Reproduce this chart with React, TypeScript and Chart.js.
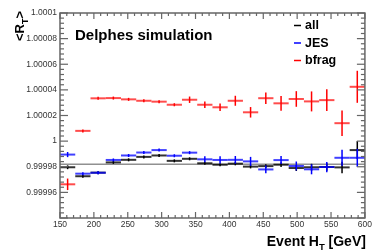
import React, { useEffect, useRef } from "react";
import { Chart, registerables } from "chart.js";

Chart.register(...registerables);

// ---- data ----
const xEdges = [150, 172.5, 195, 217.5, 240, 262.5, 285, 307.5, 330, 352.5, 375, 397.5, 420, 442.5, 465, 487.5, 510, 532.5, 555, 577.5, 600];

const allValues = [0.9999796, 0.9999726, 0.9999754, 0.9999834, 0.9999854, 0.9999877, 0.9999888, 0.9999846, 0.9999862, 0.9999827, 0.9999816, 0.9999824, 0.9999801, 0.9999805, 0.9999816, 0.999979, 0.9999796, 0.9999798, 0.9999795, 0.999993];
const allErrors = [0.0000015, 0.0000008, 0.0000008, 0.0000008, 0.0000008, 0.0000008, 0.0000008, 0.0000008, 0.0000009, 0.000001, 0.0000012, 0.0000013, 0.0000014, 0.0000015, 0.0000017, 0.0000023, 0.0000027, 0.000003, 0.0000045, 0.000007];

const jesValues = [0.9999895, 0.9999746, 0.9999753, 0.9999853, 0.9999888, 0.9999911, 0.999993, 0.9999886, 0.999991, 0.9999858, 0.9999853, 0.9999854, 0.9999842, 0.9999779, 0.9999852, 0.9999806, 0.999978, 0.9999798, 0.999987, 0.999987];
const jesErrors = [0.000002, 0.0000008, 0.0000008, 0.0000008, 0.0000008, 0.0000008, 0.0000008, 0.0000009, 0.0000012, 0.0000023, 0.0000028, 0.000003, 0.0000035, 0.000003, 0.0000031, 0.0000035, 0.0000039, 0.000004, 0.0000062, 0.000007];

const bfragValues = [0.9999663, 1.000008, 1.0000334, 1.0000336, 1.0000326, 1.0000315, 1.0000308, 1.0000284, 1.0000323, 1.0000284, 1.0000264, 1.0000315, 1.0000225, 1.0000335, 1.0000295, 1.0000329, 1.000031, 1.000032, 1.000014, 1.0000424];
const bfragErrors = [0.0000045, 0.000001, 0.0000008, 0.0000008, 0.0000008, 0.0000009, 0.000001, 0.0000012, 0.0000025, 0.0000026, 0.0000029, 0.0000039, 0.0000041, 0.0000045, 0.0000058, 0.0000061, 0.0000078, 0.0000085, 0.00001, 0.0000125];

const referenceLevel = 0.999982;

const seriesNames = ["all", "JES", "bfrag"];
const seriesColors = ["#000000", "#0000ff", "#ff0000"];
const seriesBarColors = ["rgba(0,0,0,0.8)", "rgba(0,0,255,0.75)", "rgba(255,0,0,0.7)"];

const yTickValues = [0.99996, 0.99998, 1, 1.00002, 1.00004, 1.00006, 1.00008, 1.0001];
const yTickLabels = ["0.99996", "0.99998", "1", "1.00002", "1.00004", "1.00006", "1.00008", "1.0001"];
const xTickValues = [150, 200, 250, 300, 350, 400, 450, 500, 550, 600];
const xTickLabels = ["150", "200", "250", "300", "350", "400", "450", "500", "550", "600"];

const Y_MIN = 0.99994;
const Y_MAX = 1.0001;
const X_MIN = 150;
const X_MAX = 600;

const FONT = "'Liberation Sans', Arial, Helvetica, sans-serif";

const seriesValues = [allValues, jesValues, bfragValues];
const seriesErrors = [allErrors, jesErrors, bfragErrors];

const binCenters = xEdges.slice(0, -1).map((e, i) => (e + xEdges[i + 1]) / 2);

function line(ctx: CanvasRenderingContext2D, x1: number, y1: number, x2: number, y2: number) {
  ctx.beginPath();
  ctx.moveTo(x1, y1);
  ctx.lineTo(x2, y2);
  ctx.stroke();
}

function drawSubText(
  ctx: CanvasRenderingContext2D,
  parts: { t: string; sub?: boolean }[],
  size: number,
  subSize: number,
  x: number,
  y: number,
  align: "left" | "right"
) {
  const widths = parts.map((p) => {
    ctx.font = `bold ${p.sub ? subSize : size}px ${FONT}`;
    return ctx.measureText(p.t).width;
  });
  const total = widths.reduce((a, b) => a + b, 0);
  let cx = align === "right" ? x - total : x;
  ctx.textAlign = "left";
  ctx.textBaseline = "alphabetic";
  parts.forEach((p, i) => {
    ctx.font = `bold ${p.sub ? subSize : size}px ${FONT}`;
    ctx.fillText(p.t, cx, y + (p.sub ? size * 0.3 : 0));
    cx += widths[i];
  });
  return total;
}

const rootPlugin = {
  id: "rootStyle",
  beforeDatasetsDraw(chart: any) {
    const { ctx, chartArea: a, scales } = chart;
    const py = scales.y.getPixelForValue(referenceLevel);
    ctx.save();
    ctx.strokeStyle = "#909090";
    ctx.lineWidth = 1.6;
    line(ctx, a.left, py, a.right, py);
    ctx.restore();
  },
  afterDatasetsDraw(chart: any) {
    const { ctx, chartArea: a, scales } = chart;
    const x = scales.x;
    const y = scales.y;
    ctx.save();
    ctx.beginPath();
    ctx.rect(a.left, a.top, a.right - a.left, a.bottom - a.top);
    ctx.clip();
    seriesValues.forEach((vals, si) => {
      const errs = seriesErrors[si];
      vals.forEach((v, i) => {
        const xl = x.getPixelForValue(xEdges[i]);
        const xr = x.getPixelForValue(xEdges[i + 1]);
        const xc = x.getPixelForValue(binCenters[i]);
        const yc = y.getPixelForValue(v);
        const yt = y.getPixelForValue(v + errs[i]);
        const yb = y.getPixelForValue(v - errs[i]);
        ctx.strokeStyle = seriesBarColors[si];
        ctx.lineWidth = 2;
        line(ctx, xl, yc, xr, yc);
        ctx.strokeStyle = seriesColors[si];
        ctx.lineWidth = 1.5;
        line(ctx, xc, Math.min(yt, yc - 1.5), xc, Math.max(yb, yc + 1.5));
      });
    });
    ctx.restore();
  },
  afterDraw(chart: any) {
    const { ctx, chartArea: a, scales } = chart;
    const x = scales.x;
    const y = scales.y;
    ctx.save();
    // frame
    ctx.strokeStyle = "#666666";
    ctx.lineWidth = 1.5;
    ctx.strokeRect(a.left, a.top, a.right - a.left, a.bottom - a.top);
    // y ticks
    ctx.lineWidth = 1.2;
    const yMinor = 0.000004;
    const nY = Math.round((Y_MAX - Y_MIN) / yMinor);
    for (let k = 0; k <= nY; k++) {
      const v = Y_MIN + k * yMinor;
      const py = y.getPixelForValue(v);
      const len = k % 5 === 0 ? 8 : 4;
      line(ctx, a.left, py, a.left + len, py);
      line(ctx, a.right, py, a.right - len, py);
    }
    // x ticks
    const xMinor = 10;
    const nX = Math.round((X_MAX - X_MIN) / xMinor);
    for (let k = 0; k <= nX; k++) {
      const v = X_MIN + k * xMinor;
      const px = x.getPixelForValue(v);
      const len = k % 5 === 0 ? 6 : 3;
      line(ctx, px, a.bottom, px, a.bottom - len);
      line(ctx, px, a.top, px, a.top + len);
    }
    ctx.fillStyle = "#000000";
    // text
    ctx.font = `bold 15px ${FONT}`;
    ctx.textAlign = "left";
    ctx.textBaseline = "alphabetic";
    ctx.fillText("Delphes simulation", 75, 39.5);
    // x title
    drawSubText(
      ctx,
      [{ t: "Event H" }, { t: "T", sub: true }, { t: " [GeV]" }],
      14,
      9.5,
      a.right + 1,
      246,
      "right"
    );
    // y title rotated
    const parts = [{ t: "<R" }, { t: "T", sub: true }, { t: ">" }];
    let total = 0;
    parts.forEach((p) => {
      ctx.font = `bold ${p.sub ? 9 : 13}px ${FONT}`;
      total += ctx.measureText(p.t).width;
    });
    ctx.save();
    ctx.translate(24, 11 + total);
    ctx.rotate(-Math.PI / 2);
    drawSubText(ctx, parts, 13, 9, 0, 0, "left");
    ctx.restore();
    // legend
    const legendY = [25.5, 43, 60.5];
    seriesNames.forEach((name, i) => {
      ctx.strokeStyle = seriesColors[i];
      ctx.lineWidth = 1.5;
      line(ctx, 294, legendY[i], 301, legendY[i]);
      ctx.fillStyle = "#000000";
      ctx.font = `bold 12.5px ${FONT}`;
      ctx.textAlign = "left";
      ctx.textBaseline = "middle";
      ctx.fillText(name, 305, legendY[i] + 0.5);
    });
    ctx.restore();
  },
};

export default function App() {
  const canvasRef = useRef<HTMLCanvasElement | null>(null);

  useEffect(() => {
    const canvas = canvasRef.current;
    if (!canvas) return;
    const chart = new Chart(canvas, {
      type: "scatter",
      data: {
        datasets: seriesNames.map((name, si) => ({
          label: name,
          data: binCenters.map((c, i) => ({ x: c, y: seriesValues[si][i] })),
          pointRadius: 0,
          pointHoverRadius: 0,
          showLine: false,
          borderColor: seriesColors[si],
          backgroundColor: seriesColors[si],
        })),
      },
      options: {
        animation: false,
        responsive: false,
        devicePixelRatio: 1,
        events: [],
        layout: { padding: { top: 13, right: 8, left: 0, bottom: 0 } },
        plugins: {
          legend: { display: false },
          tooltip: { enabled: false },
          title: { display: false },
        },
        scales: {
          x: {
            type: "linear",
            min: X_MIN,
            max: X_MAX,
            grid: { display: false, drawTicks: false },
            border: { display: false },
            afterBuildTicks: (scale: any) => {
              scale.ticks = xTickValues.map((v) => ({ value: v }));
            },
            afterFit: (scale: any) => {
              scale.height = 34;
            },
            ticks: {
              autoSkip: false,
              maxRotation: 0,
              padding: 2,
              color: "#333333",
              font: { family: FONT, size: 8.5 },
              callback: (_v: any, i: number) => xTickLabels[i],
            },
          },
          y: {
            type: "linear",
            min: Y_MIN,
            max: Y_MAX,
            grid: { display: false, drawTicks: false },
            border: { display: false },
            afterBuildTicks: (scale: any) => {
              scale.ticks = yTickValues.map((v) => ({ value: v }));
            },
            afterFit: (scale: any) => {
              scale.width = 60;
            },
            ticks: {
              autoSkip: false,
              padding: 3,
              color: "#333333",
              font: { family: FONT, size: 8.5 },
              callback: (_v: any, i: number) => yTickLabels[i],
            },
          },
        },
      },
      plugins: [rootPlugin],
    } as any);
    return () => chart.destroy();
  }, []);

  return (
    <div style={{ position: "fixed", left: 0, top: 0, width: 374, height: 252, background: "#ffffff" }}>
      <canvas ref={canvasRef} width={374} height={252} style={{ display: "block", width: 374, height: 252 }} />
    </div>
  );
}
